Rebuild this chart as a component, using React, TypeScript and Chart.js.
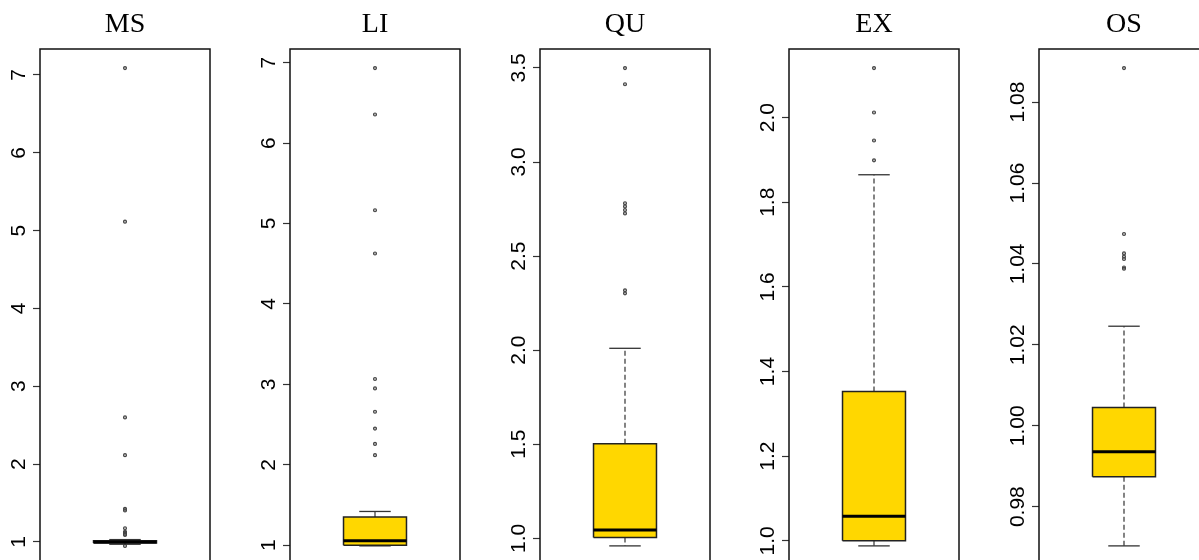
import React, { useEffect, useRef } from "react";
import { Chart, registerables } from "chart.js";

Chart.register(...registerables);

// ---- data ----
const PANELS = ["MS", "LI", "QU", "EX", "OS"];
const LOWER_WHISKER = [0.97, 0.992, 0.96, 0.988, 0.9703];
const Q1 = [0.985, 1.0, 1.005, 1.0, 0.9874];
const MEDIAN = [0.999, 1.055, 1.045, 1.058, 0.9936];
const Q3 = [1.014, 1.352, 1.503, 1.353, 1.0045];
const UPPER_WHISKER = [1.03, 1.42, 2.01, 1.865, 1.0246];

const OUTLIERS_MS = [7.088, 5.115, 2.6, 2.115, 1.425, 1.405, 1.175, 1.13, 1.12, 1.11, 1.1, 1.09, 0.949];
const OUTLIERS_LI = [6.932, 6.356, 5.165, 4.627, 3.066, 2.95, 2.66, 2.45, 2.26, 2.12];
const OUTLIERS_QU = [3.499, 3.413, 2.781, 2.764, 2.745, 2.727, 2.318, 2.302];
const OUTLIERS_EX = [2.117, 2.012, 1.946, 1.899];
const OUTLIERS_OS = [1.0884, 1.0474, 1.0426, 1.0418, 1.0412, 1.0391, 1.0388];
const OUTLIERS = [OUTLIERS_MS, OUTLIERS_LI, OUTLIERS_QU, OUTLIERS_EX, OUTLIERS_OS];

const TICKS_MS = [1, 2, 3, 4, 5, 6, 7];
const TICKS_LI = [1, 2, 3, 4, 5, 6, 7];
const TICKS_QU = [1.0, 1.5, 2.0, 2.5, 3.0, 3.5];
const TICKS_EX = [1.0, 1.2, 1.4, 1.6, 1.8, 2.0];
const TICKS_OS = [0.98, 1.0, 1.02, 1.04, 1.06, 1.08];
const TICK_VALUES = [TICKS_MS, TICKS_LI, TICKS_QU, TICKS_EX, TICKS_OS];

const LABELS_MS = ["1", "2", "3", "4", "5", "6", "7"];
const LABELS_LI = ["1", "2", "3", "4", "5", "6", "7"];
const LABELS_QU = ["1.0", "1.5", "2.0", "2.5", "3.0", "3.5"];
const LABELS_EX = ["1.0", "1.2", "1.4", "1.6", "1.8", "2.0"];
const LABELS_OS = ["0.98", "1.00", "1.02", "1.04", "1.06", "1.08"];
const TICK_LABELS = [LABELS_MS, LABELS_LI, LABELS_QU, LABELS_EX, LABELS_OS];

// ---- layout ----
const PLOT_LEFT = [40, 290, 540, 789, 1039];
const AXIS_W = 40;
const CANVAS_W = 250;
const CANVAS_H = 595;
const TICK_FONT = '"Liberation Sans", Arial, sans-serif';
const TITLE_FONT = '"Liberation Serif", "Times New Roman", serif';
const TICK_SIZE = 21;

const framePlugin = {
  id: "frame",
  afterDraw(chart: any) {
    const { ctx, chartArea } = chart;
    ctx.save();
    ctx.strokeStyle = "#111";
    ctx.lineWidth = 1.5;
    ctx.strokeRect(chartArea.left, chartArea.top, chartArea.right - chartArea.left, chartArea.bottom - chartArea.top);
    ctx.restore();
  },
};

function measureWidest(labels: string[]): number {
  const c = document.createElement("canvas");
  const ctx = c.getContext("2d")!;
  ctx.font = `${TICK_SIZE}px ${TICK_FONT}`;
  let w = 0;
  for (const l of labels) w = Math.max(w, ctx.measureText(l).width);
  return w;
}

function Panel({ index }: { index: number }) {
  const ref = useRef<HTMLCanvasElement>(null);

  useEffect(() => {
    const canvas = ref.current!;
    const i = index;
    const lw = LOWER_WHISKER[i];
    const q1 = Q1[i];
    const med = MEDIAN[i];
    const q3 = Q3[i];
    const uw = UPPER_WHISKER[i];
    const out = OUTLIERS[i];
    const all = [lw, uw, ...out];
    const lo = Math.min(...all);
    const hi = Math.max(...all);
    const r = hi - lo;
    const yMin = lo - 0.04 * r;
    const yMax = hi + 0.04 * r;
    const ticks = TICK_VALUES[i];
    const labels = TICK_LABELS[i];
    const widest = measureWidest(labels);
    const pad = 13.5 - widest / 2;

    const lineBase = { pointRadius: 0, fill: false, tension: 0, borderCapStyle: "butt" as const };

    const chart = new Chart(canvas, {
      type: "line",
      data: {
        datasets: [
          {
            ...lineBase,
            label: "median",
            data: [{ x: 0.8, y: med }, { x: 1.2, y: med }],
            borderColor: "#000",
            borderWidth: 3,
          },
          {
            ...lineBase,
            label: "box",
            data: [
              { x: 0.8, y: q1 },
              { x: 1.2, y: q1 },
              { x: 1.2, y: q3 },
              { x: 0.8, y: q3 },
              { x: 0.8, y: q1 },
            ],
            borderColor: "#222",
            borderWidth: 1.5,
            backgroundColor: "#FFD700",
            fill: "shape",
            borderJoinStyle: "miter",
          },
          {
            ...lineBase,
            label: "upper whisker",
            data: [{ x: 1, y: q3 }, { x: 1, y: uw }],
            borderColor: "#333",
            borderWidth: 1.2,
            borderDash: [5, 3],
          },
          {
            ...lineBase,
            label: "lower whisker",
            data: [{ x: 1, y: q1 }, { x: 1, y: lw }],
            borderColor: "#333",
            borderWidth: 1.2,
            borderDash: [5, 3],
          },
          {
            ...lineBase,
            label: "upper cap",
            data: [{ x: 0.9, y: uw }, { x: 1.1, y: uw }],
            borderColor: "#333",
            borderWidth: 1.3,
          },
          {
            ...lineBase,
            label: "lower cap",
            data: [{ x: 0.9, y: lw }, { x: 1.1, y: lw }],
            borderColor: "#333",
            borderWidth: 1.3,
          },
          {
            label: "outliers",
            data: out.map((v) => ({ x: 1, y: v })),
            showLine: false,
            pointRadius: 1.5,
            pointBorderWidth: 1.1,
            pointBorderColor: "#444",
            pointBackgroundColor: "rgba(120,120,120,0.5)",
            pointStyle: "circle",
          },
        ],
      },
      options: {
        responsive: false,
        animation: false,
        devicePixelRatio: 1,
        layout: { padding: { left: 0, right: AXIS_W, top: 0, bottom: 30 } },
        plugins: {
          legend: { display: false },
          tooltip: { enabled: false },
          title: {
            display: true,
            text: PANELS[i],
            fullSize: false,
            color: "#000",
            font: { family: TITLE_FONT, size: 28, weight: "normal" },
            padding: { top: 7.7, bottom: 7.7 },
          },
        },
        scales: {
          x: { type: "linear", min: 0.46, max: 1.54, display: false },
          y: {
            type: "linear",
            min: yMin,
            max: yMax,
            bounds: "data",
            afterFit: (s: any) => {
              s.width = AXIS_W;
            },
            afterBuildTicks: (s: any) => {
              s.ticks = ticks.map((v) => ({ value: v }));
            },
            grid: {
              display: true,
              drawOnChartArea: false,
              drawTicks: true,
              tickLength: 7,
              tickColor: "#333",
              tickWidth: 1.2,
            },
            border: { display: false },
            ticks: {
              autoSkip: false,
              minRotation: 90,
              maxRotation: 90,
              crossAlign: "center",
              padding: pad,
              color: "#000",
              font: { family: TICK_FONT, size: TICK_SIZE },
              callback: (_v: any, idx: number) => labels[idx],
            },
          },
        },
      } as any,
      plugins: [framePlugin],
    });
    return () => chart.destroy();
  }, [index]);

  return (
    <canvas
      ref={ref}
      width={CANVAS_W}
      height={CANVAS_H}
      style={{ position: "absolute", left: PLOT_LEFT[index] - AXIS_W, top: 0, width: CANVAS_W, height: CANVAS_H }}
    />
  );
}

export default function App() {
  return (
    <div
      style={{
        position: "fixed",
        left: 0,
        top: 0,
        width: 1199,
        height: 560,
        overflow: "hidden",
        background: "#fff",
      }}
    >
      {PANELS.map((_, i) => (
        <Panel key={i} index={i} />
      ))}
    </div>
  );
}
